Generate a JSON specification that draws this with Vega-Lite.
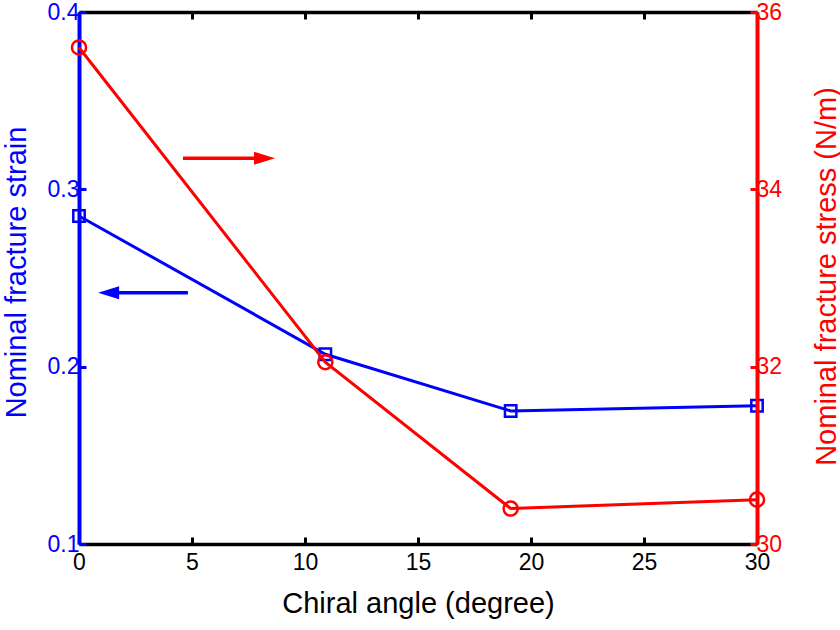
{
  "$schema": "https://vega.github.io/schema/vega-lite/v6.json",
  "width": 678,
  "height": 532,
  "autosize": {"type": "none"},
  "padding": {"left": 79, "top": 12, "right": 83, "bottom": 86},
  "background": "white",
  "config": {
    "view": {"stroke": null},
    "font": "Liberation Sans",
    "axis": {"grid": false, "labelFont": "Liberation Sans", "titleFont": "Liberation Sans", "labelFontSize": 23, "titleFontSize": 29, "titleFontWeight": "normal", "domainWidth": 3.5, "tickWidth": 3, "tickSize": -7}
  },
  "datasets": {
    "strain": [
      {"angle": 0, "strain": 0.285},
      {"angle": 10.9, "strain": 0.207},
      {"angle": 19.1, "strain": 0.175},
      {"angle": 30, "strain": 0.178}
    ],
    "stress": [
      {"angle": 0, "stress": 35.6},
      {"angle": 10.9, "stress": 32.05},
      {"angle": 19.1, "stress": 30.4},
      {"angle": 30, "stress": 30.5}
    ],
    "blueArrow": [{"x1": 1.5, "x2": 4.82, "y": 0.2417, "hx": 1.31}],
    "redArrow": [{"x1": 4.6, "x2": 8.0, "y": 34.35, "hx": 8.21}]
  },
  "layer": [
    {
      "layer": [
        {
          "data": {"name": "strain"},
          "mark": {"type": "line", "color": "#0000ff", "strokeWidth": 3},
          "encoding": {
            "x": {"field": "angle", "type": "quantitative", "scale": {"domain": [0, 30], "nice": false},
              "axis": {"orient": "bottom", "values": [0, 5, 10, 15, 20, 25, 30], "domainColor": "black", "tickColor": "black", "labelColor": "black", "titleColor": "black", "title": "Chiral angle (degree)", "labelPadding": 14, "labelFlush": false, "titlePadding": 15}},
            "y": {"field": "strain", "type": "quantitative", "scale": {"domain": [0.1, 0.4], "nice": false, "zero": false},
              "axis": {"orient": "left", "values": [0.1, 0.2, 0.3, 0.4], "format": ".1f", "domainColor": "#0000ff", "domainWidth": 4, "tickColor": "#0000ff", "labelColor": "#0000ff", "titleColor": "#0000ff", "title": "Nominal fracture strain", "labelPadding": 7, "labelFlush": false, "titleAngle": -90, "titleX": -63, "titleY": 260, "titleBaseline": "middle", "titleAlign": "center"}}
          }
        },
        {
          "data": {"name": "strain"},
          "mark": {"type": "point", "shape": "square", "filled": false, "color": "#0000ff", "strokeWidth": 2.5, "size": 130, "opacity": 1},
          "encoding": {
            "x": {"field": "angle", "type": "quantitative"},
            "y": {"field": "strain", "type": "quantitative"}
          }
        },
        {
          "data": {"name": "blueArrow"},
          "mark": {"type": "rule", "color": "#0000ff", "strokeWidth": 3.5},
          "encoding": {
            "x": {"field": "x1", "type": "quantitative"},
            "x2": {"field": "x2"},
            "y": {"field": "y", "type": "quantitative"}
          }
        },
        {
          "data": {"name": "blueArrow"},
          "mark": {"type": "point", "shape": "M 1 -0.62 L -1 0 L 1 0.62 Z", "filled": true, "color": "#0000ff", "size": 441, "opacity": 1},
          "encoding": {
            "x": {"field": "hx", "type": "quantitative"},
            "y": {"field": "y", "type": "quantitative"}
          }
        }
      ]
    },
    {
      "layer": [
        {
          "data": {"name": "stress"},
          "mark": {"type": "line", "color": "#ff0000", "strokeWidth": 3},
          "encoding": {
            "x": {"field": "angle", "type": "quantitative", "scale": {"domain": [0, 30], "nice": false},
              "axis": {"orient": "top", "values": [0, 5, 10, 15, 20, 25, 30], "labels": false, "title": null, "domainColor": "black", "tickColor": "black"}},
            "y": {"field": "stress", "type": "quantitative", "scale": {"domain": [30, 36], "nice": false, "zero": false},
              "axis": {"orient": "right", "values": [30, 32, 34, 36], "format": "d", "domainColor": "#ff0000", "domainWidth": 4, "tickColor": "#ff0000", "labelColor": "#ff0000", "titleColor": "#ff0000", "title": "Nominal fracture stress (N/m)", "labelPadding": 6, "labelFlush": false, "zindex": 1, "titleAngle": -90, "titleX": 69, "titleY": 264, "titleBaseline": "middle", "titleAlign": "center"}}
          }
        },
        {
          "data": {"name": "stress"},
          "mark": {"type": "point", "shape": "circle", "filled": false, "color": "#ff0000", "strokeWidth": 2.5, "size": 200, "opacity": 1},
          "encoding": {
            "x": {"field": "angle", "type": "quantitative"},
            "y": {"field": "stress", "type": "quantitative"}
          }
        },
        {
          "data": {"name": "redArrow"},
          "mark": {"type": "rule", "color": "#ff0000", "strokeWidth": 3.5},
          "encoding": {
            "x": {"field": "x1", "type": "quantitative"},
            "x2": {"field": "x2"},
            "y": {"field": "y", "type": "quantitative"}
          }
        },
        {
          "data": {"name": "redArrow"},
          "mark": {"type": "point", "shape": "M -1 -0.62 L 1 0 L -1 0.62 Z", "filled": true, "color": "#ff0000", "size": 441, "opacity": 1},
          "encoding": {
            "x": {"field": "hx", "type": "quantitative"},
            "y": {"field": "y", "type": "quantitative"}
          }
        }
      ]
    }
  ],
  "resolve": {"scale": {"y": "independent"}, "axis": {"x": "independent"}}
}
